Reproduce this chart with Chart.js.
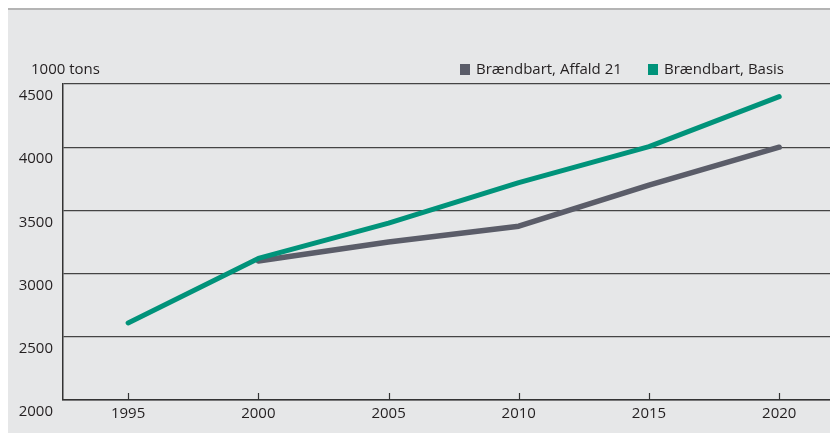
<!DOCTYPE html>
<html>
<head>
<meta charset="utf-8">
<script src="https://cdn.jsdelivr.net/npm/chart.js@4.4.1/dist/chart.umd.min.js"></script>
<style>
  html, body { margin: 0; padding: 0; background: #fff; }
  #panel {
    position: absolute; left: 8px; top: 8px; width: 822px; height: 423px;
    background: #e6e7e8; border-top: 2px solid #b4b4b4;
  }
  #chart { position: absolute; left: 0; top: 0; }
</style>
</head>
<body>
<div id="panel"></div>
<canvas id="chart" width="830" height="433"></canvas>
<script>
  // Forecast of combustible waste, 1000 tons
  const years = [1995, 2000, 2005, 2010, 2015, 2020];
  const affald21 = [null, 3100, 3250, 3375, 3700, 4000];
  const basis = [2610, 3120, 3400, 3720, 4005, 4400];
  const yTicks = [2000, 2500, 3000, 3500, 4000, 4500];

  const textColor = "#231f20";
  const font = { family: "'Open Sans', 'Noto Sans', sans-serif", size: 15 };

  // unit label, legend and inward x ticks
  const decorations = {
    id: "decorations",
    afterDraw(chart) {
      const ctx = chart.ctx;
      const area = chart.chartArea;
      ctx.save();
      ctx.font = `${font.size}px ${font.family}`;
      ctx.fillStyle = textColor;
      ctx.textBaseline = "middle";
      ctx.fillText("1000 tons", 31, 70);

      // legend
      const legendX = [460, 648];
      chart.data.datasets.forEach((d, i) => {
        ctx.fillStyle = d.borderColor;
        ctx.fillRect(legendX[i], 64, 10, 11);
        ctx.fillStyle = textColor;
        ctx.fillText(d.label, legendX[i] + 16, 70);
      });

      // x ticks pointing into the plot
      const xs = chart.scales.x;
      ctx.strokeStyle = "#333";
      ctx.lineWidth = 1.2;
      xs.ticks.forEach((t) => {
        const px = Math.round(xs.getPixelForValue(t.value)) + 0.5;
        ctx.beginPath();
        ctx.moveTo(px, area.bottom);
        ctx.lineTo(px, area.bottom - 7);
        ctx.stroke();
      });
      ctx.restore();
    },
  };

  new Chart(document.getElementById("chart"), {
    type: "line",
    data: {
      labels: years,
      datasets: [
        {
          label: "Brændbart, Affald 21",
          data: years.map((y, i) => ({ x: y, y: affald21[i] })),
          borderColor: "#5b5d69",
          backgroundColor: "#5b5d69",
          borderWidth: 5.5,
          order: 1,
        },
        {
          label: "Brændbart, Basis",
          data: years.map((y, i) => ({ x: y, y: basis[i] })),
          borderColor: "#00937a",
          backgroundColor: "#00937a",
          borderWidth: 5,
          order: 0,
        },
      ],
    },
    options: {
      responsive: false,
      animation: false,
      devicePixelRatio: 1,
      layout: { padding: { left: 0, top: 84, right: 0, bottom: 0 } },
      elements: {
        point: { radius: 0, hoverRadius: 0 },
        line: { tension: 0, borderCapStyle: "round", borderJoinStyle: "round" },
      },
      plugins: {
        legend: { display: false },
        title: { display: false },
        tooltip: { enabled: false },
      },
      scales: {
        x: {
          type: "linear",
          min: 1992.5,
          max: 2021.95,
          afterBuildTicks: (scale) => {
            scale.ticks = years.map((v) => ({ value: v }));
          },
          afterFit: (scale) => { scale.height = 33; },
          grid: { display: false, drawTicks: false },
          border: { display: true, color: "#333", width: 1.5 },
          ticks: {
            color: textColor,
            font: font,
            padding: 5,
            maxRotation: 0,
            autoSkip: false,
            callback: (v) => String(v),
          },
        },
        y: {
          min: 2000,
          max: 4500,
          afterBuildTicks: (scale) => {
            scale.ticks = yTicks.map((v) => ({ value: v }));
          },
          afterFit: (scale) => { scale.width = 63; },
          grid: { color: "#444", lineWidth: 1.2, drawTicks: false },
          border: { display: true, color: "#333", width: 1.5 },
          ticks: {
            color: textColor,
            font: font,
            padding: 10,
            labelOffset: 12,
            callback: (v) => String(v),
          },
        },
      },
    },
    plugins: [decorations],
  });
</script>
</body>
</html>
